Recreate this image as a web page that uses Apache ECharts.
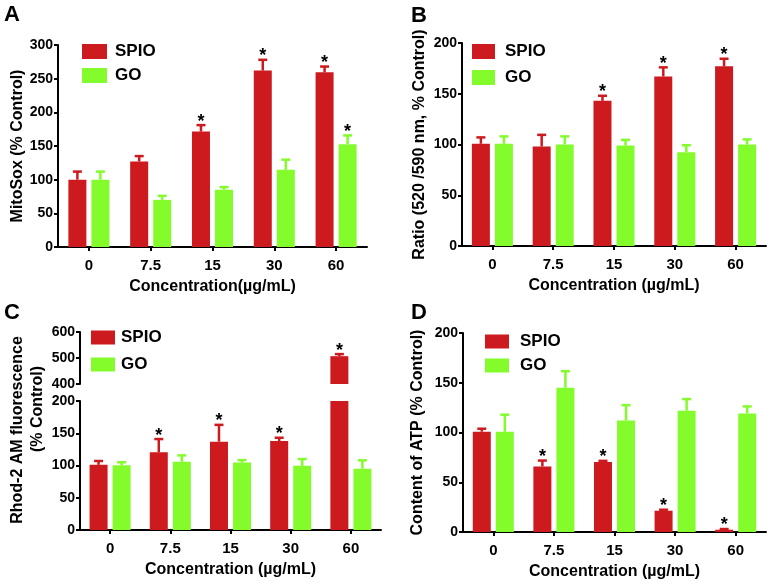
<!DOCTYPE html>
<html>
<head>
<meta charset="utf-8">
<script src="https://cdn.jsdelivr.net/npm/echarts@6/dist/echarts.min.js"></script>
<style>html,body{margin:0;padding:0;background:#fff}#c{width:775px;height:584px}</style>
</head>
<body>
<div id="c"></div>
<script>
// ---------- data ----------
const categories = ['0', '7.5', '15', '30', '60'];
const seriesNames = ['SPIO', 'GO'];

// Panel A: MitoSox
const spioA = [100, 127, 171.5, 262, 259.5];
const spioAErr = [12, 8, 9.5, 16, 8.5];
const goA = [100, 70, 85, 114.7, 152.7];
const goAErr = [12, 6, 4, 15, 13];
const spioASig = [0, 0, 1, 1, 1];
const goASig = [0, 0, 0, 0, 1];

// Panel B: Ratio 520/590
const spioB = [100.7, 98, 143, 167, 177];
const spioBErr = [6.3, 11.5, 5, 9, 7.5];
const goB = [100.7, 100, 99, 92.4, 100];
const goBErr = [7.3, 8, 5.6, 6.9, 5];
const spioBSig = [0, 0, 1, 1, 1];
const goBSig = [0, 0, 0, 0, 0];

// Panel C: Rhod-2 AM
const spioC = [101, 120.4, 137, 138, 507];
const spioCErr = [6, 20.6, 26, 5, 8];
const goC = [100.5, 105.8, 104.7, 99.5, 95];
const goCErr = [4.5, 9.9, 3.7, 10.5, 13];
const spioCSig = [0, 1, 1, 1, 1];
const goCSig = [0, 0, 0, 0, 0];

// Panel D: ATP
const spioD = [100.8, 65.8, 70.4, 21.4, 2.3];
const spioDErr = [3, 6, 1.1, 1, 0.7];
const goD = [100.8, 144.9, 112, 121.9, 119.2];
const goDErr = [17.1, 16.7, 15.5, 11.7, 7];
const spioDSig = [0, 1, 1, 1, 1];
const goDSig = [0, 0, 0, 0, 0];

const yTicksA = [0, 300, 50];
const yTicksB = [0, 200, 50];
const yTicksCUpper = [400, 600, 100];
const yTicksCLower = [0, 200, 50];
const yTicksD = [0, 200, 50];

// ---------- styles ----------
const FONT = '"Liberation Sans", Arial, Helvetica, sans-serif';
const RED = '#cc1a1f';
const GREEN = '#84fc2c';
const BAR_W = 18;
const BAR_GAP = '28%';
const OFFSET = (BAR_W + BAR_W * 0.28) / 2;

const chart = echarts.init(document.getElementById('c'), null, {renderer: 'canvas'});

function yAxis(gridIndex, t, name, nameGap) {
  return {
    type: 'value', gridIndex: gridIndex, min: t[0], max: t[1], interval: t[2],
    name: name || '', nameLocation: 'middle', nameGap: nameGap || 30,
    nameTextStyle: {fontFamily: FONT, fontWeight: 'bold', fontSize: 16, color: '#000'},
    axisLine: {show: true, lineStyle: {color: '#000', width: 2}},
    axisTick: {show: true, length: 4, lineStyle: {color: '#000', width: 2}},
    axisLabel: {fontFamily: FONT, fontWeight: 'bold', fontSize: 14, color: '#000', margin: 5},
    splitLine: {show: false}
  };
}
function xAxis(gridIndex, name, show) {
  return {
    type: 'category', gridIndex: gridIndex, data: categories, show: show !== false,
    name: name || '', nameLocation: 'middle', nameGap: 32,
    nameTextStyle: {fontFamily: FONT, fontWeight: 'bold', fontSize: 16, color: '#000'},
    axisLine: {show: true, lineStyle: {color: '#000', width: 2}},
    axisTick: {show: true, alignWithLabel: true, length: 4, lineStyle: {color: '#000', width: 2}},
    axisLabel: {fontFamily: FONT, fontWeight: 'bold', fontSize: 15, color: '#000', margin: 11},
    splitLine: {show: false}
  };
}
function bar(name, color, axisIdx, data) {
  return {
    type: 'bar', name: name, xAxisIndex: axisIdx, yAxisIndex: axisIdx, data: data,
    barWidth: BAR_W, barGap: BAR_GAP, itemStyle: {color: color}, clip: true,
    silent: true, z: 2
  };
}
function errRender(sign) {
  return function (params, api) {
    const i = api.value(0), v = api.value(1), e = api.value(2), s = api.value(3);
    const p0 = api.coord([i, v]);
    const p1 = api.coord([i, v + e]);
    const x = p0[0] + sign * OFFSET;
    const st = {stroke: api.visual('color'), lineWidth: 2.5};
    const ch = [
      {type: 'line', shape: {x1: x, y1: p0[1], x2: x, y2: p1[1]}, style: st},
      {type: 'line', shape: {x1: x - 4.5, y1: p1[1], x2: x + 4.5, y2: p1[1]}, style: st}
    ];
    if (s) {
      ch.push({type: 'text', style: {text: '*', x: x, y: p1[1] - 3.5, align: 'center',
        verticalAlign: 'middle', font: 'bold 18px ' + FONT, fill: '#000'}});
    }
    return {type: 'group', children: ch};
  };
}
function err(name, color, axisIdx, vals, errs, sig, sign, filter) {
  const data = [];
  vals.forEach(function (v, i) {
    if (!filter || filter(v, errs[i])) data.push([i, v, errs[i], sig[i]]);
  });
  return {
    type: 'custom', name: name, xAxisIndex: axisIdx, yAxisIndex: axisIdx,
    renderItem: errRender(sign), data: data, itemStyle: {color: color},
    encode: {x: 0, y: 1}, silent: true, z: 3
  };
}
function legend(left, top, w, h, gap, textPad) {
  return {
    data: seriesNames, left: left, top: top, orient: 'vertical', padding: 0,
    icon: 'rect', itemWidth: w, itemHeight: h, itemGap: gap,
    selectedMode: false,
    textStyle: {fontFamily: FONT, fontWeight: 'bold', fontSize: 17, color: '#000',
      lineHeight: h, padding: [0, 0, 0, textPad]}
  };
}
function letter(txt, x, y) {
  return {type: 'text', left: x, top: y, style: {text: txt, font: 'bold 22px ' + FONT, fill: '#000'}};
}

const low = function (v, e) { return v + e <= 200; };
const high = function (v, e) { return v > 200; };

const option = {
  animation: false,
  backgroundColor: '#fff',
  grid: [
    {left: 58, top: 45, width: 309, height: 202},
    {left: 462, top: 43, width: 304, height: 203},
    {left: 80, top: 332, width: 301, height: 52},
    {left: 80, top: 401, width: 301, height: 129},
    {left: 463, top: 333, width: 303, height: 199}
  ],
  xAxis: [
    xAxis(0, 'Concentration(µg/mL)'),
    xAxis(1, 'Concentration (µg/mL)'),
    xAxis(2, '', false),
    xAxis(3, 'Concentration (µg/mL)'),
    xAxis(4, 'Concentration (µg/mL)')
  ],
  yAxis: [
    yAxis(0, yTicksA, 'MitoSox (% Control)', 30),
    yAxis(1, yTicksB, 'Ratio (520 /590 nm, % Control)', 34),
    yAxis(2, yTicksCUpper, '', 30),
    yAxis(3, yTicksCLower, '', 30),
    yAxis(4, yTicksD, 'Content of ATP (% Control)', 37)
  ],
  legend: [
    legend(82, 43, 25, 15, 7, 3),
    legend(472, 43, 23, 15, 9, 5),
    legend(91, 329, 24, 14, 10, 1),
    legend(485, 333, 24, 14, 7, 6)
  ],
  graphic: [
    letter('A', 4, 4),
    letter('B', 411, 5),
    letter('C', 4, 302),
    letter('D', 411, 302),
    {type: 'text', x: 18, y: 430, rotation: Math.PI / 2,
      style: {text: 'Rhod-2 AM fluorescence', font: 'bold 16px ' + FONT, fill: '#000', align: 'center', verticalAlign: 'middle'}},
    {type: 'text', x: 38, y: 409, rotation: Math.PI / 2,
      style: {text: '(% Control)', font: 'bold 16px ' + FONT, fill: '#000', align: 'center', verticalAlign: 'middle'}}
  ],
  series: [
    bar('SPIO', RED, 0, spioA), bar('GO', GREEN, 0, goA),
    err('SPIO', RED, 0, spioA, spioAErr, spioASig, -1), err('GO', GREEN, 0, goA, goAErr, goASig, 1),

    bar('SPIO', RED, 1, spioB), bar('GO', GREEN, 1, goB),
    err('SPIO', RED, 1, spioB, spioBErr, spioBSig, -1), err('GO', GREEN, 1, goB, goBErr, goBSig, 1),

    bar('SPIO', RED, 2, spioC), bar('GO', GREEN, 2, goC),
    err('SPIO', RED, 2, spioC, spioCErr, spioCSig, -1, high), err('GO', GREEN, 2, goC, goCErr, goCSig, 1, high),

    bar('SPIO', RED, 3, spioC), bar('GO', GREEN, 3, goC),
    err('SPIO', RED, 3, spioC, spioCErr, spioCSig, -1, low), err('GO', GREEN, 3, goC, goCErr, goCSig, 1, low),

    bar('SPIO', RED, 4, spioD), bar('GO', GREEN, 4, goD),
    err('SPIO', RED, 4, spioD, spioDErr, spioDSig, -1), err('GO', GREEN, 4, goD, goDErr, goDSig, 1)
  ]
};
chart.setOption(option);
</script>
</body>
</html>
